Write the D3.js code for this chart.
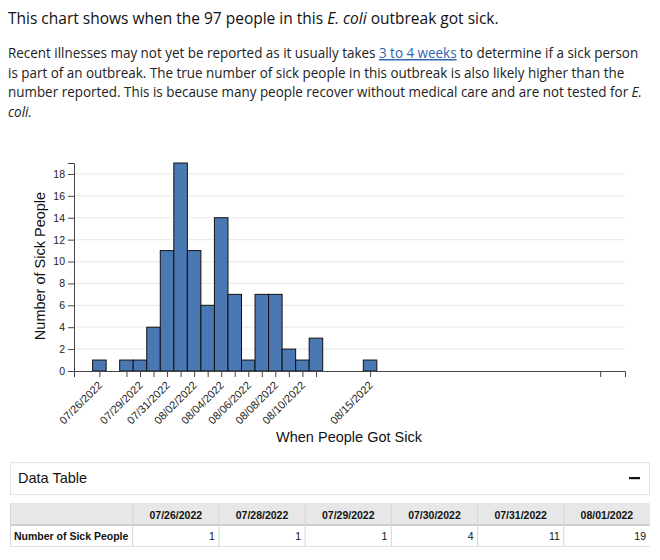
<!DOCTYPE html>
<html>
<head>
<meta charset="utf-8">
<script src="https://cdn.jsdelivr.net/npm/d3@7"></script>
<style>
  body { margin: 0; background: #fff; }
  svg { display: block; }
</style>
</head>
<body>
<svg id="chart"></svg>
<script>
const dates = ['07/26/2022', '07/28/2022', '07/29/2022', '07/30/2022', '07/31/2022', '08/01/2022',
  '08/02/2022', '08/03/2022', '08/04/2022', '08/05/2022', '08/06/2022', '08/07/2022',
  '08/08/2022', '08/09/2022', '08/10/2022', '08/11/2022', '08/15/2022'];
const counts = [1, 1, 1, 4, 11, 19, 11, 6, 14, 7, 1, 7, 7, 2, 1, 3, 1];
const extraTicks = ['09/01/2022'];
const yTicks = [0, 2, 4, 6, 8, 10, 12, 14, 16, 18];
const seriesName = 'Number of Sick People';
const visibleCols = 6; // the table only shows its first columns in view

const parse = d3.timeParse('%m/%d/%Y');
const data = dates.map((d, i) => ({ label: d, date: parse(d), value: counts[i] }));

const svg = d3.select('#chart').attr('width', 660).attr('height', 560);

// heading + paragraph
const sans = "'Open Sans', 'Noto Sans', sans-serif";
const arial = "'Liberation Sans', Arial, Helvetica, sans-serif";

svg.append('text')
  .attr('x', 8).attr('y', 24)
  .attr('font-family', sans).attr('font-size', 15.5).attr('fill', '#111')
  .call((t) => {
    t.append('tspan').text('This chart shows when the 97 people in this ');
    t.append('tspan').attr('font-style', 'italic').text('E. coli');
    t.append('tspan').text(' outbreak got sick.');
  });

// the page font is narrower than Open Sans, so squeeze the block a little
const para = svg.append('g')
  .attr('transform', 'translate(8,0) scale(0.927,1)')
  .attr('font-family', sans).attr('font-size', 14.5).attr('fill', '#222');

const l1 = para.append('text').attr('x', 0).attr('y', 58);
l1.append('tspan').text('Recent illnesses may not yet be reported as it usually takes ');
l1.append('tspan').attr('fill', '#2f63ad').attr('text-decoration', 'underline').text('3 to 4 weeks');
l1.append('tspan').text(' to determine if a sick person');

para.append('text').attr('x', 0).attr('y', 78)
  .text('is part of an outbreak. The true number of sick people in this outbreak is also likely higher than the');

const l3 = para.append('text').attr('x', 0).attr('y', 97.5);
l3.append('tspan').text('number reported. This is because many people recover without medical care and are not tested for ');
l3.append('tspan').attr('font-style', 'italic').text('E.');

para.append('text').attr('x', 0).attr('y', 117).attr('font-style', 'italic').text('coli.');

// chart
const t0 = parse(dates[0]);
const x = d3.scaleTime()
  .domain([d3.timeHour.offset(t0, -45), d3.timeHour.offset(t0, 932)])
  .range([74, 625]);
const y = d3.scaleLinear().domain([0, 19]).range([371, 163]);

const dayW = x(d3.timeDay.offset(t0, 1)) - x(t0);

svg.append('g')
  .selectAll('line')
  .data(yTicks.filter((v) => v > 0))
  .join('line')
  .attr('x1', x.range()[0]).attr('x2', x.range()[1])
  .attr('y1', (d) => y(d)).attr('y2', (d) => y(d))
  .attr('stroke', '#ececec').attr('stroke-width', 1.2);

svg.append('g')
  .selectAll('rect')
  .data(data)
  .join('rect')
  .attr('x', (d) => x(d.date) - dayW / 2)
  .attr('width', dayW)
  .attr('y', (d) => y(d.value))
  .attr('height', (d) => y(0) - y(d.value))
  .attr('fill', '#4a78b3')
  .attr('stroke', '#111')
  .attr('stroke-width', 1);

const labeled = new Set(dates.filter((d, i) => i % 2 === 0));
const fmt = d3.timeFormat('%m/%d/%Y');

const xAxis = svg.append('g')
  .attr('transform', `translate(0,${y(0)})`)
  .call(d3.axisBottom(x)
    .tickValues(data.map((d) => d.date).concat(extraTicks.map(parse)))
    .tickSize(6)
    .tickFormat((d) => (labeled.has(fmt(d)) ? fmt(d) : '')));

xAxis.selectAll('text')
  .attr('font-family', arial).attr('font-size', 11).attr('fill', '#222')
  .attr('text-anchor', 'end')
  .attr('x', 0).attr('y', 0).attr('dy', 0)
  .attr('transform', 'translate(3,15) rotate(-45)');

const yAxis = svg.append('g')
  .attr('transform', `translate(${x.range()[0]},0)`)
  .call(d3.axisLeft(y).tickValues(yTicks).tickSize(6));

yAxis.selectAll('text')
  .attr('font-family', arial).attr('font-size', 10.5).attr('fill', '#222');

svg.selectAll('.domain, .tick line').attr('stroke', '#444');

svg.append('text')
  .attr('transform', 'translate(45,266) rotate(-90)')
  .attr('text-anchor', 'middle')
  .attr('font-family', arial).attr('font-size', 14.5).attr('fill', '#111')
  .text(seriesName);

svg.append('text')
  .attr('x', 349).attr('y', 442)
  .attr('text-anchor', 'middle')
  .attr('font-family', arial).attr('font-size', 14.5).attr('fill', '#111')
  .text('When People Got Sick');

// data table panel
svg.append('rect')
  .attr('x', 10.5).attr('y', 462.5).attr('width', 639).attr('height', 32)
  .attr('fill', '#fff').attr('stroke', '#e3e3e3');

svg.append('text')
  .attr('x', 18).attr('y', 483)
  .attr('font-family', arial).attr('font-size', 14.5).attr('fill', '#111')
  .text('Data Table');

svg.append('rect')
  .attr('x', 629).attr('y', 477).attr('width', 11).attr('height', 2.2)
  .attr('fill', '#111');

const tdata = data.slice(0, visibleCols);
const tblLeft = 10;
const tblRight = 650;
const firstW = 122.7;
const colW = (tblRight - tblLeft - firstW) / visibleCols;
const cols = d3.scaleLinear().domain([0, 1]).range([tblLeft + firstW, tblLeft + firstW + colW]);
const rowTop = 503;
const headH = 22;
const rowH = 21.5;

const tbl = svg.append('g')
  .attr('font-family', arial).attr('font-size', 10.5).attr('fill', '#111');

tbl.append('rect')
  .attr('x', tblLeft).attr('y', rowTop).attr('width', tblRight - tblLeft).attr('height', headH)
  .attr('fill', '#e7e7e7');

tbl.append('line')
  .attr('x1', tblLeft).attr('x2', tblRight)
  .attr('y1', rowTop + headH).attr('y2', rowTop + headH)
  .attr('stroke', '#cfcfcf').attr('stroke-width', 2);

tbl.append('line')
  .attr('x1', tblLeft).attr('x2', tblRight)
  .attr('y1', rowTop + headH + rowH).attr('y2', rowTop + headH + rowH)
  .attr('stroke', '#e0e0e0');

tbl.selectAll('.vline')
  .data(d3.range(visibleCols + 1))
  .join('line')
  .attr('class', 'vline')
  .attr('x1', (i) => (i === 0 ? tblLeft + 0.5 : cols(i - 1)))
  .attr('x2', (i) => (i === 0 ? tblLeft + 0.5 : cols(i - 1)))
  .attr('y1', rowTop).attr('y2', rowTop + headH + rowH)
  .attr('stroke', '#d6d6d6');

tbl.selectAll('.head')
  .data(tdata)
  .join('text')
  .attr('class', 'head')
  .attr('x', (d, i) => cols(i) + colW / 2)
  .attr('y', rowTop + 15.5)
  .attr('text-anchor', 'middle')
  .attr('font-weight', 'bold')
  .text((d) => d.label);

tbl.selectAll('.val')
  .data(tdata)
  .join('text')
  .attr('class', 'val')
  .attr('x', (d, i) => cols(i + 1) - 4)
  .attr('y', rowTop + headH + 15)
  .attr('text-anchor', 'end')
  .text((d) => d.value);

tbl.append('text')
  .attr('x', 14).attr('y', rowTop + headH + 15)
  .attr('font-weight', 'bold')
  .text(seriesName);
</script>
</body>
</html>
